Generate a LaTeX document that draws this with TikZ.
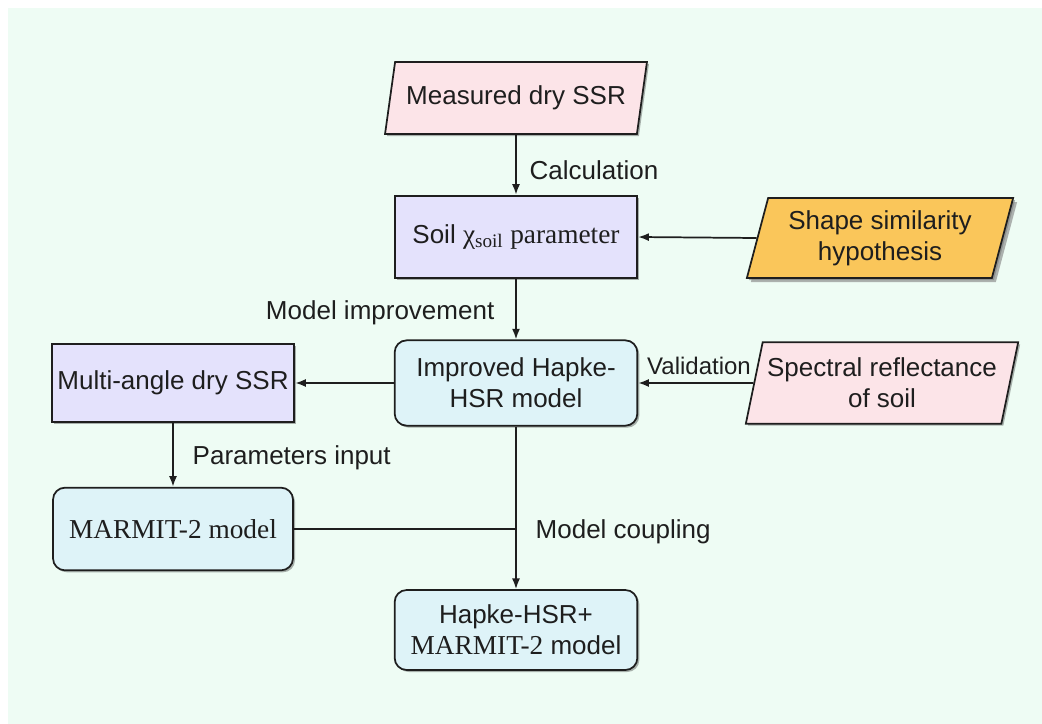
\documentclass[tikz,border=0pt]{standalone}
\usepackage{fontspec}
\setmainfont{Liberation Sans}
\newfontfamily\tmfont{Liberation Serif}
\usetikzlibrary{arrows.meta,shapes.geometric,shadows}

\definecolor{bggreen}{RGB}{238,252,244}
\definecolor{datapink}{RGB}{252,228,232}
\definecolor{boxlilac}{RGB}{228,226,252}
\definecolor{modelblue}{RGB}{222,243,248}
\definecolor{hypoorange}{RGB}{250,198,90}
\definecolor{inkgray}{RGB}{30,30,30}

\tikzset{
  every node/.style={font=\fontsize{19.5}{23}\selectfont, text=inkgray},
  line/.style={draw=inkgray, line width=1.3pt},
  flow/.style={line, -{Latex[length=8pt,width=6pt]}},
  softshadow/.style={drop shadow={shadow xshift=1.5pt, shadow yshift=-1.5pt, fill=black, opacity=0.3}},
  databox/.style={trapezium, trapezium left angle=74, trapezium right angle=106,
    trapezium stretches=true, line, fill=datapink, align=center, softshadow},
  parambox/.style={rectangle, line, fill=boxlilac, align=center,
    minimum width=182pt, softshadow},
  modelbox/.style={rectangle, rounded corners=9pt, line, fill=modelblue, align=center,
    minimum width=182pt, softshadow}
}

\begin{document}
\begin{tikzpicture}[x=0.75pt,y=-0.75pt]
\useasboundingbox (0,0) rectangle (1042,724);
\fill[white] (0,0) rectangle (1042,724);
\fill[bggreen] (8,8) rectangle (1042,724);

% inputs
\node[databox, minimum width=197pt, minimum height=54pt] (meas) at (516,98) {Measured dry SSR};
\node[databox, fill=hypoorange, minimum width=200pt, minimum height=60pt,
  drop shadow={shadow xshift=3pt, shadow yshift=-3pt, fill=gray, opacity=0.6}] (hypo) at (880,238)
  {Shape similarity\\hypothesis};
\node[databox, minimum width=200pt, minimum height=61pt] (spec) at (882,383) {Spectral reflectance\\of soil};

% boxes
\node[parambox, minimum height=62pt] (soil) at (516,237)
  {Soil {\tmfont\fontsize{20.5}{23}\selectfont χ\textsubscript{soil} parameter}};
\node[modelbox, minimum height=64pt] (impr) at (516,383) {Improved Hapke-\\HSR model};
\node[parambox, minimum height=59pt] (multi) at (173,383) {Multi-angle dry SSR};
\node[modelbox, minimum width=180pt, minimum height=62pt] (marm) at (173,529)
  {\tmfont\fontsize{20.5}{23}\selectfont MARMIT-2 model};
\node[modelbox, minimum height=60pt] (coup) at (516,630)
  {Hapke-HSR+\\{\tmfont\fontsize{20.5}{23}\selectfont MARMIT-2} model};

% connectors
\draw[flow] (meas.south) -- (soil.north);
\draw[flow] (hypo.west) -- (soil.east);
\draw[flow] (soil.south) -- (impr.north);
\draw[flow] (spec.west) -- (impr.east);
\draw[flow] (impr.west) -- (multi.east);
\draw[flow] (multi.south) -- (marm.north);
\draw[flow] (impr.south) -- (coup.north);
\draw[line] (marm.east) -- (impr.south |- marm.east);

% labels
\node[anchor=west] (lcalc) at (525,170) {Calculation};
\node[anchor=east] (limpr) at (499,313) {Model improvement};
\node[font=\fontsize{18}{21}\selectfont] (lval) at (699,366) {Validation};
\node[anchor=west] (lpar) at (188,458) {Parameters input};
\node[anchor=west] (lcoup) at (531,532) {Model coupling};
\end{tikzpicture}
\end{document}
